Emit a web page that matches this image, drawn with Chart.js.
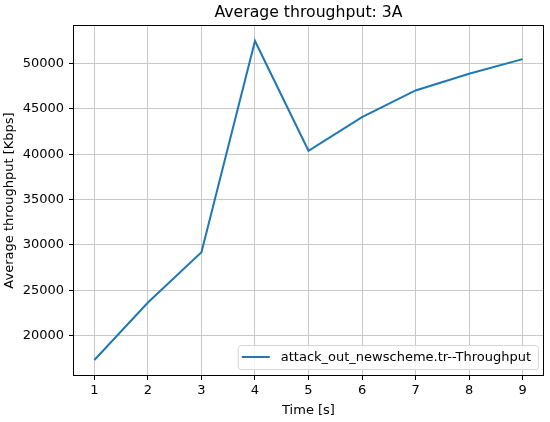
<!DOCTYPE html>
<html>
<head>
<meta charset="utf-8">
<script src="https://cdn.jsdelivr.net/npm/chart.js@4.4.0/dist/chart.umd.min.js"></script>
<style>
html, body { margin: 0; padding: 0; background: #fff; }
</style>
</head>
<body>
<canvas id="myChart" width="550" height="422"></canvas>
<script>
// data
const timeLabels = [1, 2, 3, 4, 5, 6, 7, 8, 9];
const throughput = [17300, 23650, 29180, 52480, 40370, 44080, 47020, 48860, 50480];
const xTicks = [1, 2, 3, 4, 5, 6, 7, 8, 9];
const yTicks = [20000, 25000, 30000, 35000, 40000, 45000, 50000];
const chartTitle = 'Average throughput: 3A';
const seriesName = 'attack_out_newscheme.tr--Throughput';

const FONT = '"DejaVu Sans", sans-serif';

// matplotlib style 5% margins
const xLo = Math.min(...timeLabels), xHi = Math.max(...timeLabels);
const yLo = Math.min(...throughput), yHi = Math.max(...throughput);
const xPad = (xHi - xLo) * 0.05, yPad = (yHi - yLo) * 0.05;

const decorations = {
    id: 'decorations',
    afterDatasetsDraw(chart) {
        const ctx = chart.ctx, a = chart.chartArea;
        ctx.save();

        // spines
        ctx.strokeStyle = '#000';
        ctx.lineWidth = 1;
        ctx.strokeRect(a.left + 0.5, a.top + 0.5, a.right - a.left - 1, a.bottom - a.top - 1);

        // title centred on the axes
        ctx.fillStyle = '#000';
        ctx.font = '15.7px ' + FONT;
        ctx.textAlign = 'center';
        ctx.textBaseline = 'alphabetic';
        ctx.fillText(chartTitle, (a.left + a.right) / 2, 17);

        // legend, lower right
        const ds = chart.data.datasets[0];
        ctx.font = '13px ' + FONT;
        const tw = ctx.measureText(ds.label).width;
        const right = a.right - 6, bottom = a.bottom - 7;
        const w = tw + 50, h = 24;
        const left = right - w, top = bottom - h;
        ctx.beginPath();
        ctx.roundRect(left + 0.5, top + 0.5, w, h, 3);
        ctx.fillStyle = 'rgba(255,255,255,0.8)';
        ctx.fill();
        ctx.strokeStyle = '#d6d6d6';
        ctx.lineWidth = 1;
        ctx.stroke();

        ctx.beginPath();
        ctx.moveTo(left + 4, top + 12);
        ctx.lineTo(left + 32, top + 12);
        ctx.strokeStyle = ds.borderColor;
        ctx.lineWidth = 2;
        ctx.stroke();

        ctx.fillStyle = '#000';
        ctx.textAlign = 'left';
        ctx.textBaseline = 'middle';
        ctx.fillText(ds.label, left + 43, top + 12.5);
        ctx.restore();
    }
};

const data = {
    datasets: [{
        label: seriesName,
        data: timeLabels.map((t, i) => ({ x: t, y: throughput[i] })),
        borderColor: '#1f77b4',
        backgroundColor: '#1f77b4',
        borderWidth: 2,
        pointRadius: 0,
        tension: 0,
        fill: false
    }]
};

const config = {
    type: 'line',
    data: data,
    plugins: [decorations],
    options: {
        responsive: false,
        animation: false,
        layout: { padding: { top: 25, right: 6, left: 0, bottom: 0 } },
        plugins: {
            legend: { display: false },
            title: { display: false },
            tooltip: { enabled: false }
        },
        scales: {
            x: {
                type: 'linear',
                min: xLo - xPad,
                max: xHi + xPad,
                afterBuildTicks: (scale) => { scale.ticks = xTicks.map(v => ({ value: v })); },
                afterFit: (scale) => { scale.height = 46; },
                grid: { color: '#c8c8c8', lineWidth: 1, tickColor: '#000', tickLength: 4 },
                border: { display: false },
                ticks: { color: '#000', font: { family: FONT, size: 13 }, padding: 3, maxRotation: 0 },
                title: { display: true, text: 'Time [s]', color: '#000', font: { family: FONT, size: 13 }, padding: { top: 4, bottom: 4 } }
            },
            y: {
                type: 'linear',
                min: yLo - yPad,
                max: yHi + yPad,
                afterBuildTicks: (scale) => { scale.ticks = yTicks.map(v => ({ value: v })); },
                afterFit: (scale) => { scale.width = 73; },
                grid: { color: '#c8c8c8', lineWidth: 1, tickColor: '#000', tickLength: 4 },
                border: { display: false },
                ticks: { color: '#000', font: { family: FONT, size: 13 }, padding: 5, callback: (v) => String(v) },
                title: { display: true, text: 'Average throughput [Kbps]', color: '#000', font: { family: FONT, size: 13 }, padding: { top: 2, bottom: 2 } }
            }
        }
    }
};

const myChart = new Chart(document.getElementById('myChart'), config);
</script>
</body>
</html>
